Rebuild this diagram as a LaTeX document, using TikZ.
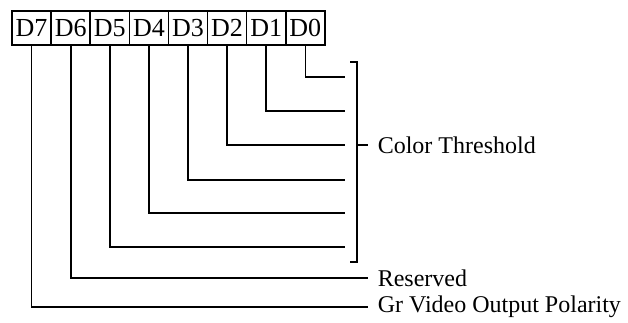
\documentclass[tikz,border=0pt]{standalone}
\usepackage{fontspec}
\setmainfont{Liberation Serif}
\usepackage{tikz}

\begin{document}
\begin{tikzpicture}[x=1pt, y=-1pt, line width=1.6pt,
  every node/.style={font=\fontsize{24}{28}\selectfont},
  bitbox/.style={draw, inner sep=0pt, minimum width=39.1pt, minimum height=34pt,
    font=\fontsize{26}{30}\selectfont},
  label/.style={anchor=west, inner sep=0pt}]
  \useasboundingbox (0,0) rectangle (628,323);
  % register bits
  \node[bitbox] (d7) at (31.6,28) {D7};
  \node[bitbox] (d6) at (70.7,28) {D6};
  \node[bitbox] (d5) at (109.8,28) {D5};
  \node[bitbox] (d4) at (148.9,28) {D4};
  \node[bitbox] (d3) at (188,28) {D3};
  \node[bitbox] (d2) at (227.1,28) {D2};
  \node[bitbox] (d1) at (266.2,28) {D1};
  \node[bitbox] (d0) at (305.3,28) {D0};
  % line ends
  \coordinate (e0) at (345,77);
  \coordinate (e1) at (345,111);
  \coordinate (e2) at (345,145);
  \coordinate (e3) at (345,180);
  \coordinate (e4) at (345,213);
  \coordinate (e5) at (345,247);
  \coordinate (e6) at (368,278);
  \coordinate (e7) at (368,307);
  % labels
  \node[label] (thr) at (377,145) {Color Threshold};
  \node[label] (res) at (377,278) {Reserved};
  \node[label] (pol) at (377,307) {Gr Video Output Polarity};
  \draw (d0.south) |- (e0);
  \draw (d1.south) |- (e1);
  \draw (d2.south) |- (e2);
  \draw (d3.south) |- (e3);
  \draw (d4.south) |- (e4);
  \draw (d5.south) |- (e5);
  \draw (d6.south) |- (e6);
  \draw (d7.south) |- (e7);
  % bracket
  \draw (350,62) -- (357,62) -- (357,262) -- (350,262);
  \draw (357,145) -- (368,145);
\end{tikzpicture}
\end{document}
